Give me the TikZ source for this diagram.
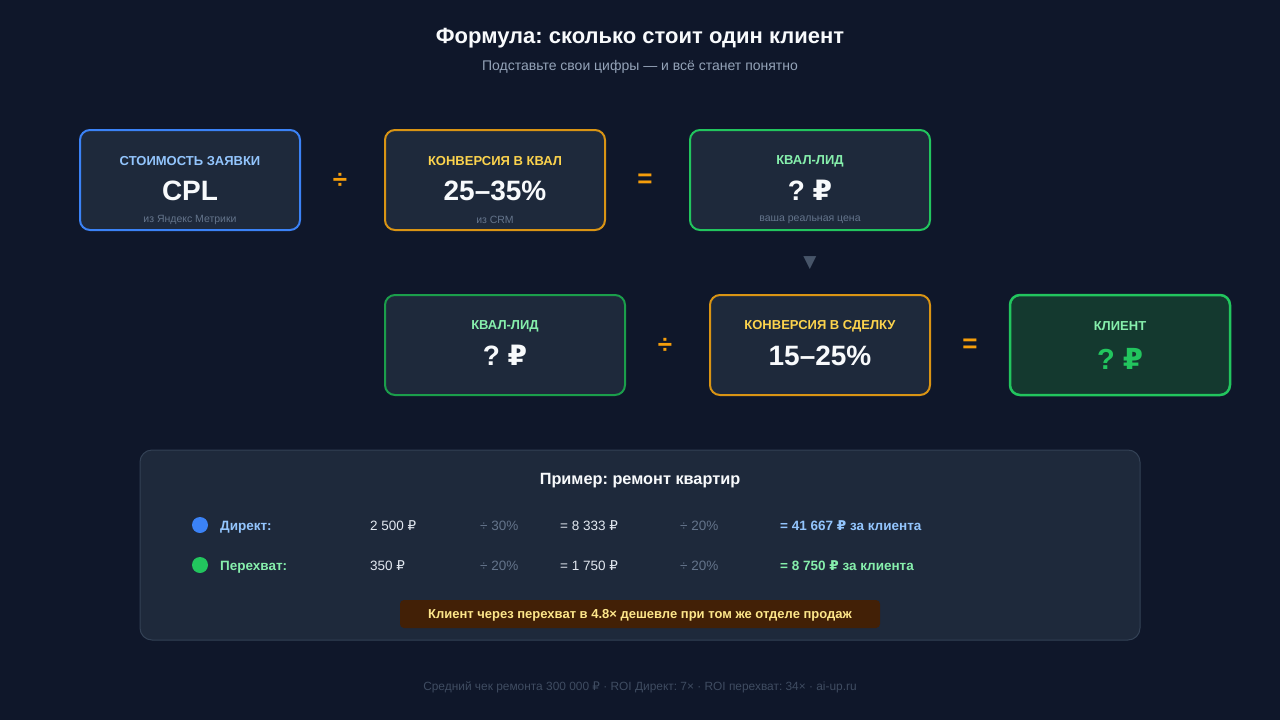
\documentclass[tikz,border=0pt]{standalone}
\usepackage{fontspec}
\setmainfont{Liberation Sans}
\newfontfamily\symfont{DejaVu Sans}
\usetikzlibrary{positioning}
\frenchspacing

\definecolor{bgcol}{HTML}{0F172A}
\definecolor{cardcol}{HTML}{1E293B}
\definecolor{cardedge}{HTML}{334155}
\definecolor{bluecol}{HTML}{3B82F6}
\definecolor{bluelight}{HTML}{93C5FD}
\definecolor{orangecol}{HTML}{F59E0B}
\definecolor{orangeedge}{HTML}{D99414}
\definecolor{yellowlight}{HTML}{FCD34D}
\definecolor{greencol}{HTML}{22C55E}
\definecolor{greenlight}{HTML}{86EFAC}
\definecolor{greenfill}{HTML}{14392F}
\definecolor{mutedcol}{HTML}{64748B}
\definecolor{subcol}{HTML}{94A3B8}
\definecolor{textcol}{HTML}{E2E8F0}
\definecolor{whitecol}{HTML}{F8FAFC}
\definecolor{bannerfill}{HTML}{422006}
\definecolor{bannertext}{HTML}{FDE68A}
\definecolor{footcol}{HTML}{3F4C61}
\definecolor{arrowcol}{HTML}{475569}

\newcommand{\fs}[1]{\fontsize{#1}{#1}\selectfont}
\newcommand{\rub}{{\symfont ₽}}

\begin{document}
\begin{tikzpicture}[x=1pt,y=-1pt]
        \tikzstyle{box_style} = [rounded corners=10pt, rectangle, line width=2pt, fill=cardcol, minimum width=220pt, minimum height=100pt, inner sep=0pt]
        \tikzstyle{cap_style} = [inner sep=0pt, font=\bfseries\fs{13}]
        \tikzstyle{val_style} = [inner sep=0pt, font=\bfseries\fs{28}, text=whitecol]
        \tikzstyle{note_style} = [inner sep=0pt, font=\fs{10.5}, text=mutedcol]
        \tikzstyle{op_style} = [inner sep=0pt, font=\bfseries\fs{26}, text=orangecol]
        \tikzstyle{row_style} = [inner sep=0pt, anchor=west, font=\fs{13.5}]

        % background
        \fill[bgcol] (0,0) rectangle (1280,720);
        \useasboundingbox (0,0) rectangle (1280,720);

        \node[inner sep=0pt, font=\bfseries\fs{22}, text=whitecol] (title) at (640,38.5) {Формула: сколько стоит один клиент};
        \node[inner sep=0pt, font=\fs{14}, text=subcol] (subtitle) at (640,66.5) {Подставьте свои цифры — и всё станет понятно};

        % first row
        \node[box_style, draw=bluecol] (cpl) at (190,180) {};
        \node[box_style, draw=orangeedge] (qconv) at (495,180) {};
        \node[box_style, draw=greencol, minimum width=240pt] (qlead) at (810,180) {};

        \node[cap_style, text=bluelight] (cpl_cap) at ([yshift=18.5pt]cpl.center) {СТОИМОСТЬ ЗАЯВКИ};
        \node[val_style] (cpl_val) at ([yshift=-10.5pt]cpl.center) {CPL};
        \node[note_style] (cpl_note) at ([yshift=-40pt]cpl.center) {из Яндекс Метрики};

        \node[cap_style, text=yellowlight] (qconv_cap) at ([yshift=18.5pt]qconv.center) {КОНВЕРСИЯ В КВАЛ};
        \node[val_style] (qconv_val) at ([yshift=-10.5pt]qconv.center) {25–35\%};
        \node[note_style] (qconv_note) at ([yshift=-40pt]qconv.center) {из CRM};

        \node[cap_style, text=greenlight] (qlead_cap) at ([yshift=18.5pt]qlead.center) {КВАЛ-ЛИД};
        \node[val_style] (qlead_val) at ([yshift=-10.5pt]qlead.center) {? \rub};
        \node[note_style] (qlead_note) at ([yshift=-40pt]qlead.center) {ваша реальная цена};

        \node[op_style] (div1) at (340,181) {÷};
        \node[op_style] (eq1) at (645,181) {=};

        \node[inner sep=0pt, font=\symfont\fs{17}, text=arrowcol] (down) at (810,263) {▼};

        % second row
        \node[box_style, draw=greencol!80!black, minimum width=240pt] (qlead2) at (505,345) {};
        \node[box_style, draw=orangeedge] (dconv) at (820,345) {};
        \node[box_style, draw=greencol, fill=greenfill, line width=2.5pt] (client) at (1120,345) {};

        \node[cap_style, text=greenlight] (qlead2_cap) at ([yshift=18.5pt]qlead2.center) {КВАЛ-ЛИД};
        \node[val_style] (qlead2_val) at ([yshift=-10.5pt]qlead2.center) {? \rub};

        \node[cap_style, text=yellowlight] (dconv_cap) at ([yshift=18.5pt]dconv.center) {КОНВЕРСИЯ В СДЕЛКУ};
        \node[val_style] (dconv_val) at ([yshift=-10.5pt]dconv.center) {15–25\%};

        \node[cap_style, text=greenlight] (client_cap) at ([yshift=18.5pt]client.center) {КЛИЕНТ};
        \node[val_style, text=greencol, font=\bfseries\fs{29}] (client_val) at ([yshift=-13.5pt]client.center) {? \rub};

        \node[op_style] (div2) at (665,346) {÷};
        \node[op_style] (eq2) at (970,346) {=};

        % example panel
        \node[rounded corners=12pt, rectangle, draw=cardedge, line width=1pt, fill=cardcol, minimum width=1000pt, minimum height=190pt] (panel) at (640,545) {};
        \node[inner sep=0pt, font=\bfseries\fs{16.3}, text=whitecol] (panel_title) at (640,481) {Пример: ремонт квартир};

        \fill[bluecol] (200,525) circle (8);
        \node[row_style, font=\bfseries\fs{13.5}, text=bluelight] (direct) at (220,527) {Директ:};
        \node[row_style, text=textcol] (direct_cpl) at (370,526) {2 500 \rub};
        \node[row_style, text=mutedcol] (direct_c1) at (480,526) {÷ 30\%};
        \node[row_style, text=textcol] (direct_q) at (560,526) {= 8 333 \rub};
        \node[row_style, text=mutedcol] (direct_c2) at (680,526) {÷ 20\%};
        \node[row_style, font=\bfseries\fs{13.5}, text=bluelight] (direct_res) at (780,526) {= 41 667 \rub{} за клиента};

        \fill[greencol] (200,565) circle (8);
        \node[row_style, font=\bfseries\fs{13.5}, text=greenlight] (intercept) at (220,567) {Перехват:};
        \node[row_style, text=textcol] (intercept_cpl) at (370,566) {350 \rub};
        \node[row_style, text=mutedcol] (intercept_c1) at (480,566) {÷ 20\%};
        \node[row_style, text=textcol] (intercept_q) at (560,566) {= 1 750 \rub};
        \node[row_style, text=mutedcol] (intercept_c2) at (680,566) {÷ 20\%};
        \node[row_style, font=\bfseries\fs{13.5}, text=greenlight] (intercept_res) at (780,566) {= 8 750 \rub{} за клиента};

        \node[rounded corners=4pt, rectangle, fill=bannerfill, minimum width=480pt, minimum height=28pt, inner sep=0pt] (banner) at (640,614) {};
        \node[inner sep=0pt, font=\bfseries\fs{13}, text=bannertext] (banner_text) at ([yshift=-1.5pt]banner.center) {Клиент через перехват в 4.8× дешевле при том же отделе продаж};

        \node[inner sep=0pt, font=\fs{11.9}, text=footcol] (footer) at (640,687) {Средний чек ремонта 300 000 \rub{} · ROI Директ: 7× · ROI перехват: 34× · ai-up.ru};

    \end{tikzpicture}
\end{document}
